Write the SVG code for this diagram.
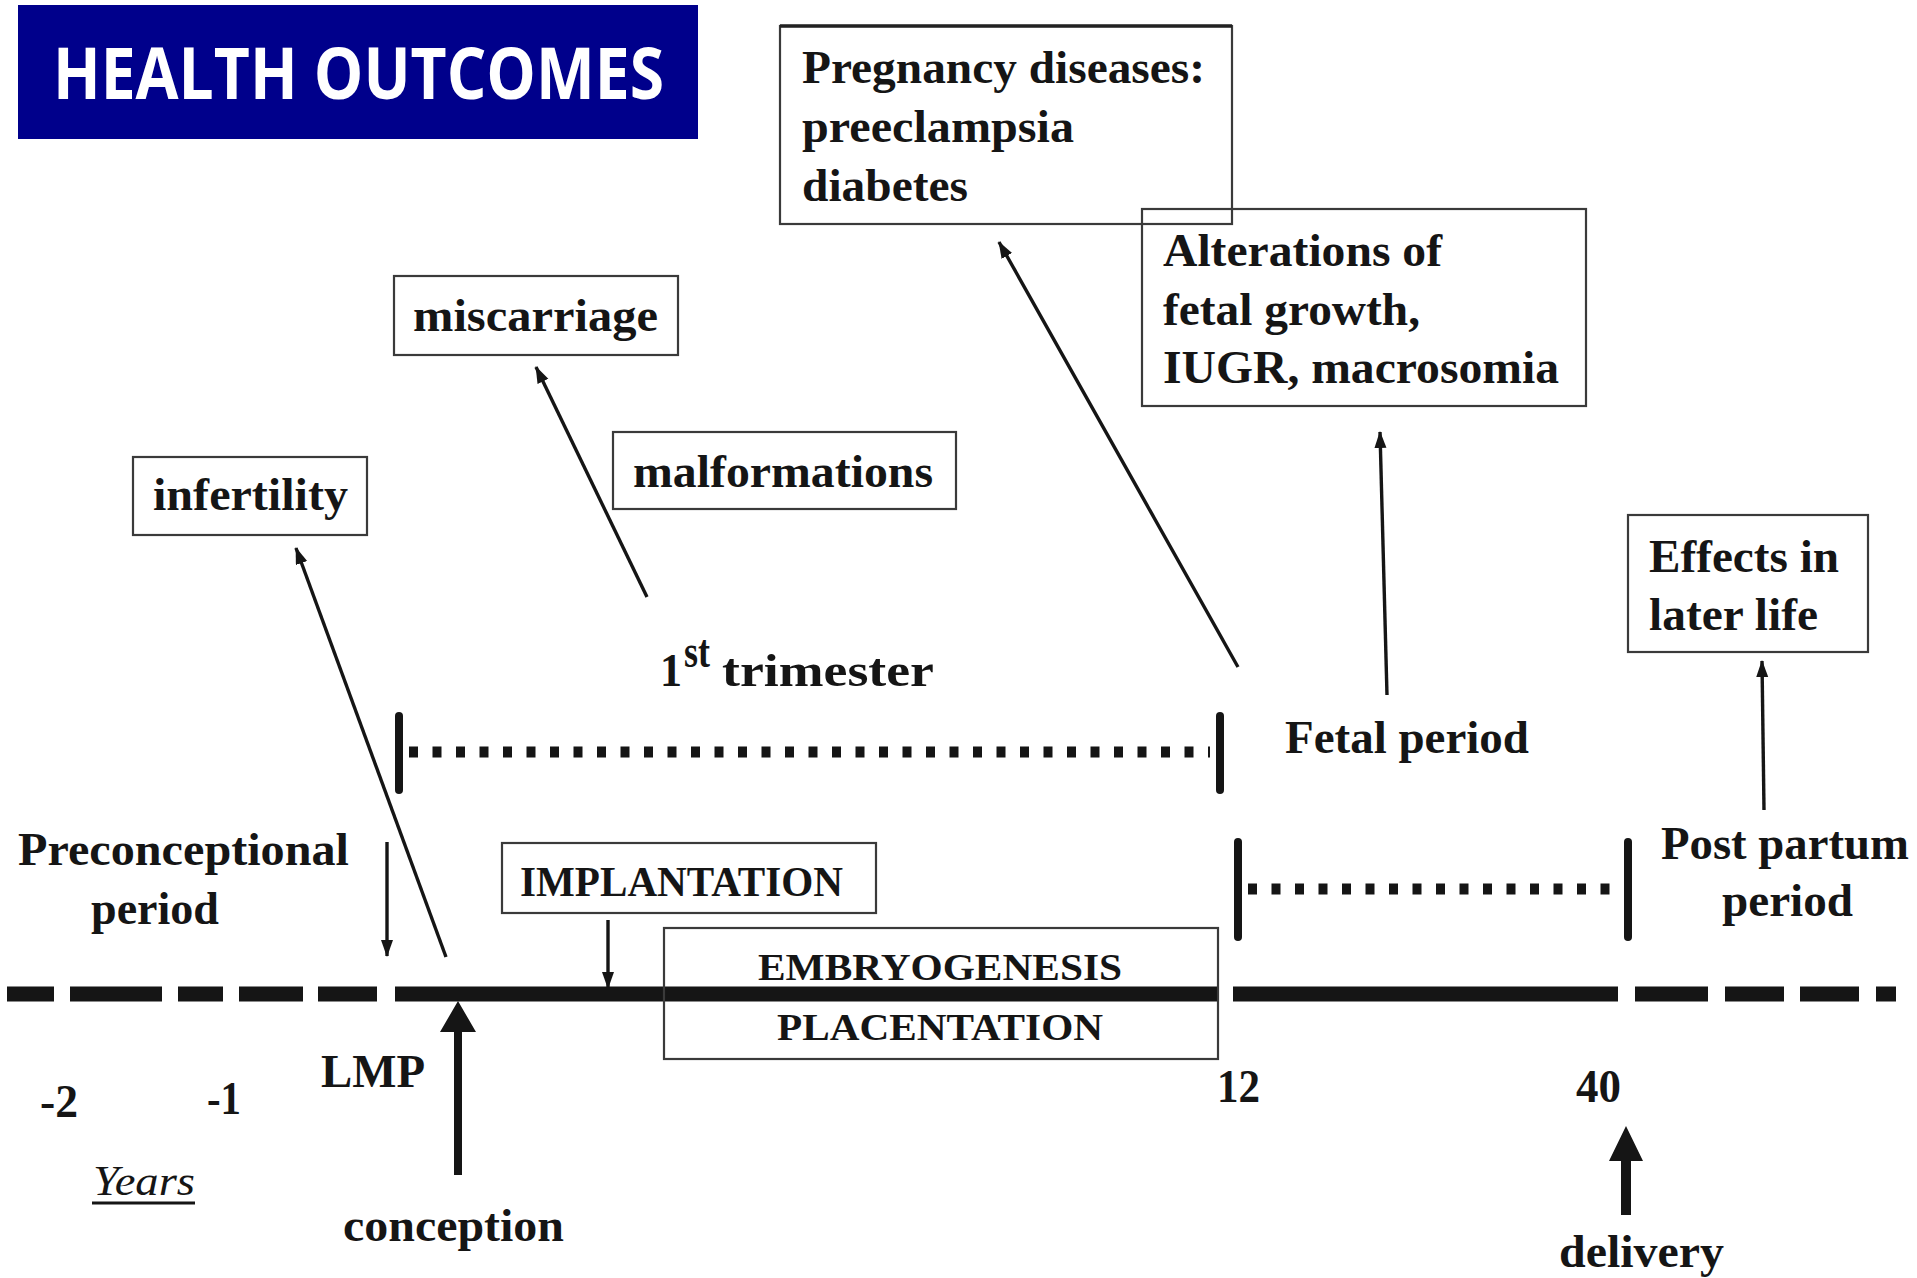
<svg xmlns="http://www.w3.org/2000/svg" width="1917" height="1278" viewBox="0 0 1917 1278">
<style>
.t{font-family:"Liberation Serif","Times New Roman",serif;font-weight:bold;fill:#151515;font-size:47px}
.caps{font-size:43px}
.small{font-size:37px}
.box{fill:none;stroke:#3a3a3a;stroke-width:2.2}
.thin{stroke:#151515;stroke-width:3.4;fill:none;marker-end:url(#ah)}
.bar{stroke:#151515;stroke-width:8;stroke-linecap:round}
.dots{stroke:#151515;stroke-width:11;stroke-dasharray:9 14.5;fill:none}
.tl{stroke:#151515;stroke-width:15;fill:none}
</style>
<defs>
<marker id="ah" markerUnits="userSpaceOnUse" markerWidth="18" markerHeight="14" refX="16" refY="6" orient="auto">
<path d="M0,0 L17,6 L0,12 z" fill="#151515"/>
</marker>
</defs>
<rect width="1917" height="1278" fill="#ffffff"/>

<g id="title">
<rect x="18" y="5" width="680" height="134" fill="#00008b"/>
<text x="53" y="99" font-family="'Open Sans','Noto Sans',sans-serif" font-weight="700" font-size="72" fill="#ffffff" textLength="611" lengthAdjust="spacingAndGlyphs">HEALTH OUTCOMES</text>
</g>

<g id="pregnancy-diseases">
<rect class="box" x="780" y="26" width="452" height="198"/>
<line x1="780" y1="26" x2="1232" y2="26" stroke="#222" stroke-width="3.5"/>
<text class="t" x="802" y="83" textLength="403" lengthAdjust="spacingAndGlyphs">Pregnancy diseases:</text>
<text class="t" x="802" y="142" textLength="272" lengthAdjust="spacingAndGlyphs">preeclampsia</text>
<text class="t" x="802" y="201" textLength="166" lengthAdjust="spacingAndGlyphs">diabetes</text>
</g>

<g id="alterations">
<rect class="box" x="1142" y="209" width="444" height="197"/>
<text class="t" x="1163" y="266" textLength="279" lengthAdjust="spacingAndGlyphs">Alterations of</text>
<text class="t" x="1163" y="325" textLength="257" lengthAdjust="spacingAndGlyphs">fetal growth,</text>
<text class="t" x="1163" y="383" textLength="396" lengthAdjust="spacingAndGlyphs">IUGR, macrosomia</text>
</g>

<g id="miscarriage">
<rect class="box" x="394" y="276" width="284" height="79"/>
<text class="t" x="413" y="331" textLength="245" lengthAdjust="spacingAndGlyphs">miscarriage</text>
</g>

<g id="malformations">
<rect class="box" x="613" y="432" width="343" height="77" stroke="#151515"/>
<text class="t" x="633" y="487" textLength="300" lengthAdjust="spacingAndGlyphs">malformations</text>
</g>

<g id="infertility">
<rect class="box" x="133" y="457" width="234" height="78"/>
<text class="t" x="153" y="510" textLength="195" lengthAdjust="spacingAndGlyphs">infertility</text>
</g>

<g id="effects-later-life">
<rect class="box" x="1628" y="515" width="240" height="137"/>
<text class="t" x="1649" y="572" textLength="190" lengthAdjust="spacingAndGlyphs">Effects in</text>
<text class="t" x="1649" y="630" textLength="169" lengthAdjust="spacingAndGlyphs">later life</text>
</g>

<g id="first-trimester">
<text class="t" x="660" y="686" font-size="50" textLength="22" lengthAdjust="spacingAndGlyphs">1</text>
<text class="t" x="684" y="667" font-size="28" textLength="26" lengthAdjust="spacingAndGlyphs">st</text>
<text class="t" x="722" y="686" font-size="50" textLength="212" lengthAdjust="spacingAndGlyphs">trimester</text>
<line class="bar" x1="399" y1="716" x2="399" y2="790"/>
<line class="bar" x1="1220" y1="716" x2="1220" y2="790"/>
<line class="dots" x1="409" y1="752" x2="1210" y2="752"/>
</g>

<g id="fetal-period">
<text class="t" x="1285" y="753" textLength="244" lengthAdjust="spacingAndGlyphs">Fetal period</text>
<line class="bar" x1="1238" y1="842" x2="1238" y2="937"/>
<line class="bar" x1="1628" y1="842" x2="1628" y2="937"/>
<line class="dots" x1="1248" y1="889" x2="1616" y2="889"/>
</g>

<g id="preconceptional-period">
<text class="t" x="18" y="865" textLength="331" lengthAdjust="spacingAndGlyphs">Preconceptional</text>
<text class="t" x="91" y="924" textLength="128" lengthAdjust="spacingAndGlyphs">period</text>
</g>

<g id="post-partum-period">
<text class="t" x="1661" y="859" textLength="248" lengthAdjust="spacingAndGlyphs">Post partum</text>
<text class="t" x="1722" y="916" textLength="131" lengthAdjust="spacingAndGlyphs">period</text>
</g>

<g id="implantation">
<rect class="box" x="502" y="843" width="374" height="70"/>
<text class="t caps" x="520" y="896" textLength="323" lengthAdjust="spacingAndGlyphs">IMPLANTATION</text>
</g>

<g id="timeline">
<line class="tl" x1="7" y1="994" x2="54" y2="994"/>
<line class="tl" x1="70" y1="994" x2="162" y2="994"/>
<line class="tl" x1="178" y1="994" x2="223" y2="994"/>
<line class="tl" x1="239" y1="994" x2="303" y2="994"/>
<line class="tl" x1="318" y1="994" x2="377" y2="994"/>
<line class="tl" x1="395" y1="994" x2="1218" y2="994"/>
<line class="tl" x1="1233" y1="994" x2="1618" y2="994"/>
<line class="tl" x1="1635" y1="994" x2="1708" y2="994"/>
<line class="tl" x1="1725" y1="994" x2="1784" y2="994"/>
<line class="tl" x1="1800" y1="994" x2="1859" y2="994"/>
<line class="tl" x1="1876" y1="994" x2="1896" y2="994"/>
</g>

<g id="embryogenesis-placentation">
<rect class="box" x="664" y="928" width="554" height="131"/>
<text class="t small" x="758" y="980" textLength="364" lengthAdjust="spacingAndGlyphs">EMBRYOGENESIS</text>
<text class="t small" x="777" y="1040" textLength="326" lengthAdjust="spacingAndGlyphs">PLACENTATION</text>
</g>

<g id="axis-labels">
<text class="t" x="40" y="1117" textLength="38" lengthAdjust="spacingAndGlyphs">-2</text>
<text class="t" x="207" y="1114" textLength="34" lengthAdjust="spacingAndGlyphs">-1</text>
<text class="t" x="321" y="1087" textLength="104" lengthAdjust="spacingAndGlyphs">LMP</text>
<text class="t" x="1217" y="1102" textLength="43" lengthAdjust="spacingAndGlyphs">12</text>
<text class="t" x="1576" y="1102" textLength="45" lengthAdjust="spacingAndGlyphs">40</text>
<text x="93" y="1195" font-family="'Liberation Serif','Times New Roman',serif" font-style="italic" font-size="42" fill="#151515" textLength="102" lengthAdjust="spacingAndGlyphs">Years</text>
<line x1="92" y1="1203" x2="195" y2="1203" stroke="#151515" stroke-width="3"/>
<text class="t" x="343" y="1241" textLength="221" lengthAdjust="spacingAndGlyphs">conception</text>
<text class="t" x="1559" y="1267" textLength="165" lengthAdjust="spacingAndGlyphs">delivery</text>
</g>

<g id="connectors">
<line class="thin" x1="446" y1="957" x2="296" y2="548"/>
<line class="thin" x1="647" y1="597" x2="536" y2="367"/>
<line class="thin" x1="1238" y1="667" x2="999" y2="242"/>
<line class="thin" x1="1387" y1="695" x2="1380" y2="432"/>
<line class="thin" x1="1764" y1="810" x2="1762" y2="661"/>
<line class="thin" x1="387" y1="842" x2="387" y2="956"/>
<line class="thin" x1="608" y1="920" x2="608" y2="988"/>
<path d="M458,1001 L476,1032 L462,1032 L462,1175 L454,1175 L454,1032 L440,1032 z" fill="#151515"/>
<path d="M1626,1126 L1643,1161 L1631,1161 L1631,1215 L1621,1215 L1621,1161 L1609,1161 z" fill="#151515"/>
</g>
</svg>
